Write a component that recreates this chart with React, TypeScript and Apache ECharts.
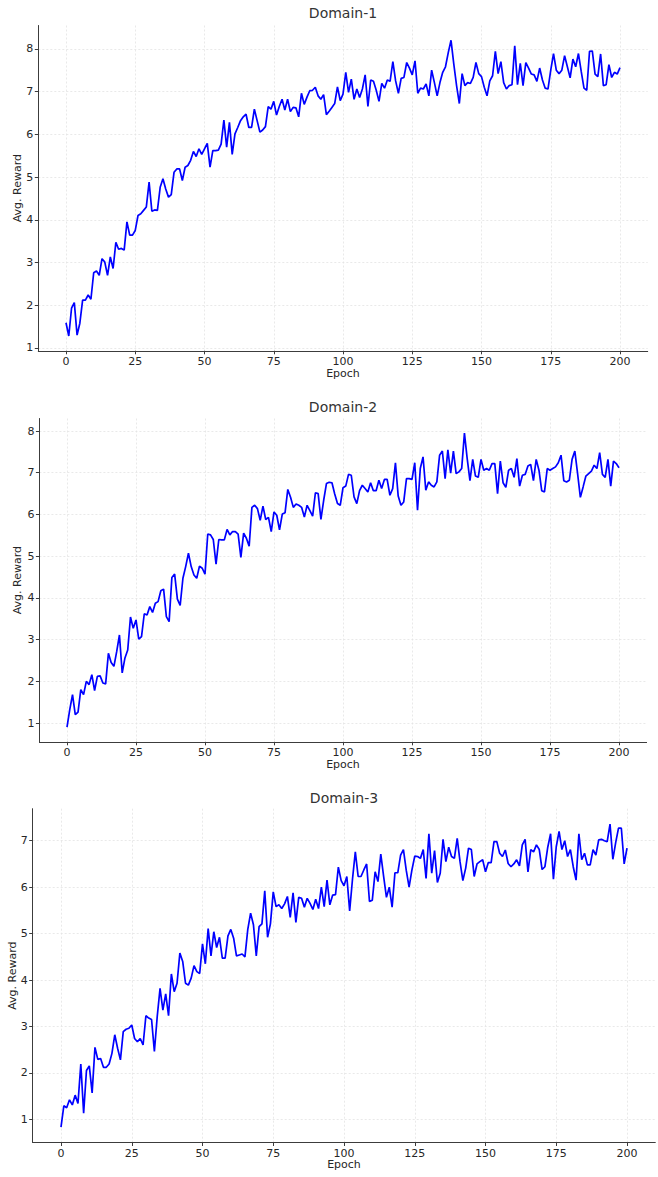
import React, { useEffect, useRef } from "react";
import * as echarts from "echarts";

const titles = ["Domain-1", "Domain-2", "Domain-3"];
const xTicks = [0, 25, 50, 75, 100, 125, 150, 175, 200];
const yTicks1 = [1, 2, 3, 4, 5, 6, 7, 8];
const yTicks2 = [1, 2, 3, 4, 5, 6, 7, 8];
const yTicks3 = [1, 2, 3, 4, 5, 6, 7];

const domain1 = [
  1.59, 1.28, 1.93, 2.06, 1.3, 1.58, 2.12, 2.12, 2.24, 2.14,
  2.76, 2.8, 2.7, 3.09, 3.01, 2.7, 3.13, 2.86, 3.47, 3.31,
  3.33, 3.29, 3.95, 3.64, 3.64, 3.75, 4.1, 4.14, 4.22, 4.3,
  4.88, 4.2, 4.23, 4.22, 4.76, 4.96, 4.72, 4.53, 4.59, 5.11,
  5.19, 5.19, 4.92, 5.23, 5.27, 5.39, 5.6, 5.48, 5.66, 5.53,
  5.66, 5.79, 5.23, 5.62, 5.62, 5.63, 5.77, 6.33, 5.7, 6.28,
  5.53, 6.01, 6.16, 6.32, 6.41, 6.47, 6.16, 6.16, 6.59, 6.32,
  6.05, 6.1, 6.18, 6.65, 6.59, 6.77, 6.45, 6.65, 6.82, 6.57,
  6.82, 6.53, 6.63, 6.62, 6.41, 6.96, 6.7, 6.87, 7.02, 7.03,
  7.1, 6.9, 6.82, 6.93, 6.46, 6.54, 6.63, 6.72, 7.11, 6.79,
  6.94, 7.45, 6.98, 7.29, 6.82, 7.06, 6.86, 7.06, 7.39, 6.65,
  7.27, 7.24, 7.03, 6.77, 7.19, 7.08, 7.27, 7.24, 7.7, 7.25,
  6.96, 7.31, 7.33, 7.68, 7.55, 7.39, 7.72, 6.96, 7.08, 7.06,
  7.18, 6.9, 7.5, 7.21, 6.9, 7.21, 7.45, 7.58, 7.91, 8.2,
  7.64, 7.14, 6.72, 7.42, 7.14, 7.21, 7.19, 7.33, 7.68, 7.42,
  7.35, 7.1, 6.9, 7.25, 7.37, 7.94, 7.42, 7.7, 7.21, 7.06,
  7.14, 7.16, 8.07, 7.16, 7.66, 7.14, 7.68, 7.55, 7.41, 7.39,
  7.24, 7.55, 7.27, 7.08, 7.06, 7.5, 7.89, 7.5, 7.42, 7.5,
  7.84, 7.58, 7.32, 7.76, 7.58, 7.89, 7.47, 7.08, 7.03, 7.94,
  7.95, 7.41, 7.35, 7.88, 7.14, 7.16, 7.63, 7.33, 7.45, 7.41, 7.56,
];

const domain2 = [
  0.9, 1.32, 1.68, 1.2, 1.26, 1.8, 1.68, 2.0, 1.92, 2.16,
  1.78, 2.12, 2.13, 1.96, 1.94, 2.67, 2.45, 2.36, 2.71, 3.11,
  2.2, 2.56, 2.75, 3.54, 3.27, 3.47, 3.01, 3.07, 3.62, 3.59,
  3.79, 3.65, 3.87, 3.91, 4.17, 4.21, 3.55, 3.43, 4.49, 4.57,
  3.97, 3.82, 4.47, 4.75, 5.07, 4.75, 4.55, 4.47, 4.76, 4.71,
  4.57, 5.53, 5.51, 5.4, 4.81, 5.4, 5.39, 5.39, 5.64, 5.51,
  5.59, 5.59, 5.53, 4.97, 5.55, 5.43, 5.24, 6.17, 6.22, 6.14,
  5.86, 6.2, 5.88, 5.93, 5.59, 6.06, 5.98, 5.63, 6.01, 6.04,
  6.6, 6.41, 6.17, 6.25, 6.22, 6.17, 5.94, 6.22, 6.09, 5.96,
  6.52, 6.5, 5.88, 6.34, 6.74, 6.77, 6.76, 6.49, 6.26, 6.22,
  6.64, 6.68, 6.96, 6.94, 6.42, 6.26, 6.57, 6.7, 6.62, 6.54,
  6.76, 6.57, 6.57, 6.82, 6.62, 6.84, 6.84, 6.46, 6.62, 7.24,
  6.44, 6.22, 6.3, 6.86, 6.86, 6.84, 7.24, 6.1, 7.1, 7.38,
  6.58, 6.78, 6.7, 6.66, 6.78, 7.42, 7.52, 6.86, 7.55, 6.99,
  7.52, 6.98, 7.02, 7.1, 7.95, 7.34, 6.81, 7.32, 6.92, 6.89,
  7.32, 7.06, 7.1, 7.06, 7.22, 7.22, 6.5, 7.28, 6.76, 6.65,
  7.06, 7.1, 6.89, 7.34, 6.68, 6.94, 6.96, 7.16, 7.2, 6.81,
  7.32, 7.06, 6.57, 6.54, 7.1, 7.06, 7.1, 7.14, 7.24, 7.42,
  6.81, 6.78, 6.82, 7.32, 7.52, 6.98, 6.41, 6.66, 6.92, 6.98,
  7.04, 7.18, 7.1, 7.48, 6.96, 6.89, 7.32, 6.68, 7.28, 7.22, 7.12,
];

const domain3 = [
  0.83, 1.29, 1.25, 1.42, 1.31, 1.52, 1.34, 2.19, 1.13, 2.05,
  2.15, 1.57, 2.55, 2.29, 2.31, 2.12, 2.12, 2.19, 2.42, 2.82,
  2.53, 2.28, 2.89, 2.94, 2.96, 3.03, 2.74, 2.67, 2.74, 2.6,
  3.23, 3.18, 3.15, 2.46, 3.21, 3.82, 3.35, 3.7, 3.23, 4.13,
  3.75, 3.93, 4.58, 4.4, 3.93, 3.89, 4.04, 4.31, 4.18, 4.14,
  4.78, 4.35, 5.11, 4.52, 5.04, 4.7, 4.92, 4.47, 4.47, 4.95,
  5.09, 4.9, 4.52, 4.54, 4.56, 4.5, 5.09, 5.44, 5.19, 4.52,
  5.15, 5.21, 5.92, 4.92, 5.21, 5.9, 5.58, 5.62, 5.54, 5.64,
  5.8, 5.35, 5.88, 5.24, 5.78, 5.76, 5.57, 5.76, 5.65, 5.52,
  5.74, 5.54, 6.0, 5.58, 6.15, 5.62, 5.83, 5.84, 6.43, 6.14,
  6.03, 6.23, 5.49, 6.17, 6.76, 6.23, 6.23, 6.37, 6.5, 5.69,
  5.72, 6.33, 6.12, 6.71, 6.23, 5.78, 6.0, 5.57, 6.31, 6.31,
  6.69, 6.81, 6.36, 6.0, 6.37, 6.67, 6.66, 6.62, 6.81, 6.19,
  7.15, 6.3, 6.79, 6.1, 6.3, 7.03, 6.55, 6.86, 6.66, 6.62,
  7.05, 6.55, 6.14, 6.41, 6.84, 6.81, 6.23, 6.5, 6.55, 6.59,
  6.33, 6.53, 6.53, 6.98, 6.98, 6.73, 6.66, 6.8, 6.51, 6.44,
  6.5, 6.59, 6.46, 6.91, 7.03, 6.33, 6.81, 6.76, 6.91, 6.81,
  6.38, 6.44, 6.86, 7.15, 6.17, 6.87, 7.2, 6.81, 7.0, 6.66,
  6.81, 6.44, 6.15, 7.15, 6.59, 6.73, 6.48, 6.48, 6.81, 6.69,
  7.02, 7.03, 7.0, 6.98, 7.36, 6.6, 6.96, 7.27, 7.27, 6.5, 6.84,
];

const epochs = domain1.map((_, i) => i);

const FONT = "DejaVu Sans";
const TEXT = "#262626";
const SPINE = "#3c3c3c";

type Panel = {
  grid: { left: number; top: number; width: number; height: number };
  yMin: number;
  yMax: number;
  yTicks: number[];
  values: number[];
  titleY: number;
  nameGap: number;
};

const panels: Panel[] = [
  { grid: { left: 38.3, top: 25.5, width: 609.4, height: 325.3 }, yMin: 0.934, yMax: 8.546, yTicks: yTicks1, values: domain1, titleY: 13, nameGap: 15.5 },
  { grid: { left: 39.4, top: 418.5, width: 607.2, height: 323.3 }, yMin: 0.55, yMax: 8.3, yTicks: yTicks2, values: domain2, titleY: 407, nameGap: 16 },
  { grid: { left: 32.7, top: 808.7, width: 622.6, height: 333.8 }, yMin: 0.5, yMax: 7.69, yTicks: yTicks3, values: domain3, titleY: 798, nameGap: 15 },
];

export default function App() {
  const ref = useRef<HTMLDivElement>(null);
  useEffect(() => {
    document.body.style.margin = "0";
    if (!ref.current) return;
    const chart = echarts.init(ref.current, null, { renderer: "svg" });
    const gridLine = { show: true, lineStyle: { color: "#e3e3e3", type: [2, 2] as any, width: 0.8 } };
    const option: any = {
      animation: false,
      backgroundColor: "#ffffff",
      textStyle: { fontFamily: FONT },
      grid: panels.map((p) => ({ ...p.grid, containLabel: false, outerBoundsMode: "none" })),
      xAxis: panels.map((p, i) => ({
        type: "value",
        gridIndex: i,
        min: -10,
        max: 210,
        name: "Epoch",
        nameLocation: "middle",
        nameGap: 16,
        nameTextStyle: { fontFamily: FONT, fontSize: 11, color: TEXT },
        axisLine: { show: true, onZero: false, lineStyle: { color: SPINE, width: 1 } },
        axisTick: { show: true, inside: false, length: 3.5, customValues: xTicks, lineStyle: { color: SPINE } },
        axisLabel: { customValues: xTicks, fontFamily: FONT, fontSize: 11, color: TEXT, margin: 5 },
        splitLine: gridLine,
      })),
      yAxis: panels.map((p, i) => ({
        type: "value",
        gridIndex: i,
        min: p.yMin,
        max: p.yMax,
        name: "Avg. Reward",
        nameLocation: "middle",
        nameGap: p.nameGap,
        nameMoveOverlap: false,
        nameTextStyle: { fontFamily: FONT, fontSize: 11, color: TEXT },
        axisLine: { show: true, onZero: false, lineStyle: { color: SPINE, width: 1 } },
        axisTick: { show: true, inside: false, length: 3.5, customValues: p.yTicks, lineStyle: { color: SPINE } },
        axisLabel: { customValues: p.yTicks, fontFamily: FONT, fontSize: 11, color: TEXT, margin: 5 },
        splitLine: gridLine,
      })),
      series: panels.map((p, i) => ({
        type: "line",
        xAxisIndex: i,
        yAxisIndex: i,
        data: p.values.map((v, j) => [epochs[j], v]),
        showSymbol: false,
        symbol: "none",
        lineStyle: { color: "#0000ff", width: 1.7 },
        z: 3,
      })),
      graphic: panels.map((p, i) => ({
        type: "text",
        x: p.grid.left + p.grid.width / 2,
        y: p.titleY,
        style: {
          text: titles[i],
          fontFamily: FONT,
          fontSize: 14,
          fill: "#333333",
          textAlign: "center",
          textVerticalAlign: "middle",
        },
      })),
    };
    chart.setOption(option);
    return () => chart.dispose();
  }, []);
  return <div ref={ref} style={{ width: 658, height: 1177 }} />;
}
